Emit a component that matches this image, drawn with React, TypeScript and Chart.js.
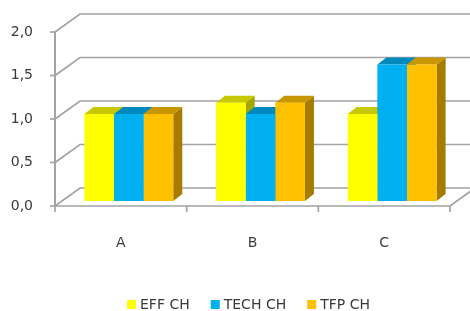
import React, { useEffect, useRef } from "react";
import { Chart, registerables } from "chart.js";

Chart.register(...registerables);

const categories = ["A", "B", "C"];
const seriesNames = ["EFF CH", "TECH CH", "TFP CH"];
const effCh = [1.0, 1.13, 1.0];
const techCh = [1.0, 1.0, 1.57];
const tfpCh = [1.0, 1.13, 1.57];
const yTickValues = [0, 0.5, 1.0, 1.5, 2.0];

const frontColors = ["#FFFF00", "#00B0F0", "#FFC000"];
const topColors = ["#C8C800", "#0089BD", "#C89600"];
const sideColors = ["#A6A600", "#00729E", "#A67C00"];

const FONT = "'DejaVu Sans', sans-serif";
const FONT_SIZE = 14;
const TEXT_COLOR = "#3a3a3a";
const GRID_COLOR = "#a3a3a3";

// 3D projection offsets relative to the bar plane (Chart.js chart area)
const FRONT = { dx: -8, dy: 5 };
const BACK = { dx: 17, dy: -13 };
const BAR_DEPTH = { dx: 9, dy: -7 };

const frame3d = {
  id: "frame3d",
  beforeDatasetsDraw(chart: any) {
    const ctx = chart.ctx as CanvasRenderingContext2D;
    const { left, right } = chart.chartArea;
    const ys = chart.scales.y;
    const xs = chart.scales.x;
    ctx.save();
    ctx.strokeStyle = GRID_COLOR;
    ctx.lineCap = "butt";
    ctx.lineJoin = "miter";
    // back wall gridlines with side diagonals
    ctx.lineWidth = 1.7;
    for (const v of yTickValues) {
      const py = ys.getPixelForValue(v);
      ctx.beginPath();
      ctx.moveTo(left + FRONT.dx, py + FRONT.dy);
      ctx.lineTo(left + BACK.dx, py + BACK.dy);
      ctx.lineTo(right + BACK.dx + 20, py + BACK.dy);
      ctx.stroke();
    }
    const p0 = ys.getPixelForValue(0);
    const pTop = ys.getPixelForValue(yTickValues[yTickValues.length - 1]);
    // floor front edge and right edge
    ctx.beginPath();
    ctx.moveTo(left + FRONT.dx, p0 + FRONT.dy);
    ctx.lineTo(right + FRONT.dx, p0 + FRONT.dy);
    ctx.lineTo(right + BACK.dx, p0 + BACK.dy);
    ctx.stroke();
    // front vertical axis
    ctx.lineWidth = 2;
    ctx.beginPath();
    ctx.moveTo(left + FRONT.dx, pTop + FRONT.dy);
    ctx.lineTo(left + FRONT.dx, p0 + FRONT.dy + 1);
    ctx.stroke();
    // y tick marks
    ctx.lineWidth = 1.7;
    for (const v of yTickValues) {
      const py = ys.getPixelForValue(v) + FRONT.dy;
      ctx.beginPath();
      ctx.moveTo(left + FRONT.dx - 5, py);
      ctx.lineTo(left + FRONT.dx, py);
      ctx.stroke();
    }
    // x tick marks at category boundaries
    for (let i = 0; i <= categories.length; i++) {
      const bx = xs.getPixelForValue(i - 0.5) + FRONT.dx;
      ctx.beginPath();
      ctx.moveTo(bx, p0 + FRONT.dy);
      ctx.lineTo(bx, p0 + FRONT.dy + 6);
      ctx.stroke();
    }
    // bar side and top faces, in drawing order left to right
    for (let i = 0; i < categories.length; i++) {
      for (let d = 0; d < chart.data.datasets.length; d++) {
        const el = chart.getDatasetMeta(d).data[i];
        if (!el) continue;
        const { x, y, base, width } = el.getProps(["x", "y", "base", "width"], true);
        const l = x - width / 2;
        const r = x + width / 2;
        ctx.fillStyle = sideColors[d];
        ctx.beginPath();
        ctx.moveTo(r, y);
        ctx.lineTo(r + BAR_DEPTH.dx, y + BAR_DEPTH.dy);
        ctx.lineTo(r + BAR_DEPTH.dx, base + BAR_DEPTH.dy);
        ctx.lineTo(r, base);
        ctx.closePath();
        ctx.fill();
        ctx.fillStyle = topColors[d];
        ctx.beginPath();
        ctx.moveTo(l, y);
        ctx.lineTo(l + BAR_DEPTH.dx, y + BAR_DEPTH.dy);
        ctx.lineTo(r + BAR_DEPTH.dx, y + BAR_DEPTH.dy);
        ctx.lineTo(r, y);
        ctx.closePath();
        ctx.fill();
      }
    }
    ctx.restore();
  },
  afterDraw(chart: any) {
    // legend
    const ctx = chart.ctx as CanvasRenderingContext2D;
    const { left, right } = chart.chartArea;
    ctx.save();
    ctx.font = `${FONT_SIZE}px ${FONT}`;
    const box = 9;
    const gap = 4;
    const itemGap = 21;
    const widths = seriesNames.map((n) => ctx.measureText(n).width);
    const total =
      widths.reduce((a, w) => a + box + gap + w, 0) + itemGap * (seriesNames.length - 1);
    const cx = (left + right) / 2 + FRONT.dx - 4;
    const cy = chart.height - 6.5;
    let x = cx - total / 2;
    ctx.textBaseline = "middle";
    ctx.textAlign = "left";
    seriesNames.forEach((n, i) => {
      ctx.fillStyle = frontColors[i];
      ctx.fillRect(x, cy - box / 2, box, box);
      x += box + gap;
      ctx.fillStyle = TEXT_COLOR;
      ctx.fillText(n, x, cy + 1);
      x += widths[i] + itemGap;
    });
    ctx.restore();
  },
};

export default function App() {
  const ref = useRef<HTMLCanvasElement | null>(null);
  useEffect(() => {
    if (!ref.current) return;
    const seriesValues = [effCh, techCh, tfpCh];
    const chart = new Chart(ref.current, {
      type: "bar",
      data: {
        labels: categories,
        datasets: seriesNames.map((name, i) => ({
          label: name,
          data: seriesValues[i],
          backgroundColor: frontColors[i],
          borderWidth: 0,
          barPercentage: 1,
          categoryPercentage: 0.675,
        })),
      },
      options: {
        responsive: false,
        animation: false,
        events: [],
        layout: { padding: { top: 27, right: 12, left: 0, bottom: 0 } },
        plugins: {
          legend: { display: false },
          tooltip: { enabled: false },
        },
        scales: {
          x: {
            grid: { display: false, drawTicks: false },
            border: { display: false },
            ticks: {
              padding: 34,
              labelOffset: FRONT.dx,
              color: TEXT_COLOR,
              font: { family: FONT, size: FONT_SIZE },
            },
            afterFit(scale: any) {
              scale.height = 110;
              scale.paddingLeft = 0;
              scale.paddingRight = 0;
            },
          },
          y: {
            min: 0,
            max: 2,
            grid: { display: false, drawTicks: false },
            border: { display: false },
            ticks: {
              stepSize: 0.5,
              padding: 30,
              labelOffset: FRONT.dy,
              color: TEXT_COLOR,
              font: { family: FONT, size: FONT_SIZE },
              callback: (v: any) => Number(v).toFixed(1).replace(".", ","),
            },
            afterFit(scale: any) {
              scale.width = 63;
              scale.paddingTop = 0;
              scale.paddingBottom = 0;
            },
          },
        },
      },
      plugins: [frame3d],
    });
    return () => chart.destroy();
  }, []);
  return (
    <div style={{ position: "absolute", left: 0, top: 0, width: 470, height: 311 }}>
      <canvas ref={ref} width={470} height={311} style={{ width: 470, height: 311 }} />
    </div>
  );
}
